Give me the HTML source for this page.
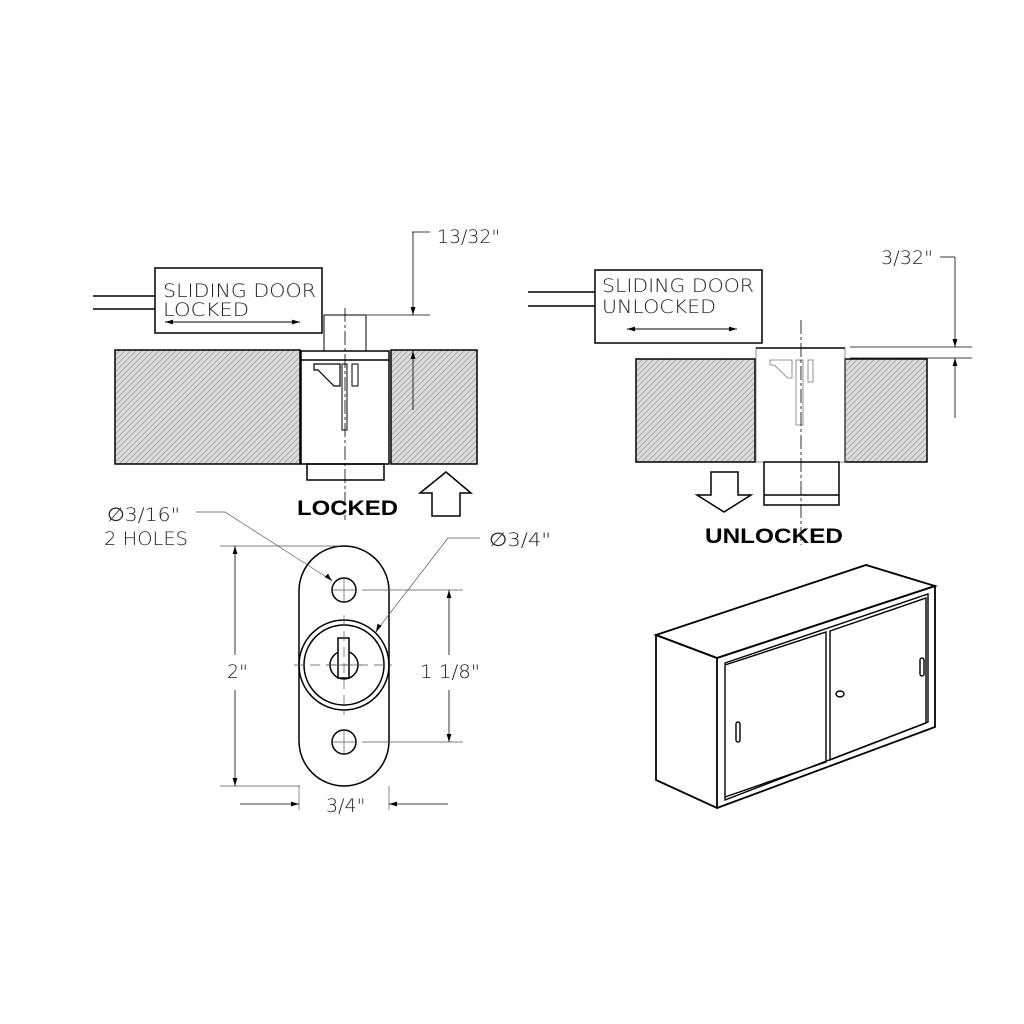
<!DOCTYPE html>
<html><head><meta charset="utf-8"><style>
html,body{margin:0;padding:0;background:#fff;}
svg{display:block;}
.t{font-family:"DejaVu Sans","Liberation Sans",sans-serif;font-weight:200;fill:#222;}
.b{font-family:"Liberation Sans",sans-serif;font-weight:bold;fill:#000;}
</style></head><body>
<svg width="1024" height="1024" viewBox="0 0 1024 1024" xmlns="http://www.w3.org/2000/svg">
<defs>
<pattern id="h" width="4" height="4" patternUnits="userSpaceOnUse" patternTransform="rotate(45)">
<rect width="4" height="4" fill="#dcdcdc"/><line x1="0" y1="0" x2="0" y2="4" stroke="#888" stroke-width="1.2"/>
</pattern>
<marker id="a" viewBox="0 0 10 10" refX="10" refY="5" markerWidth="14" markerHeight="8" orient="auto-start-reverse" markerUnits="userSpaceOnUse"><path d="M0,2 L10,5 L0,8z" fill="#000"/></marker>
</defs>
<g fill="none" stroke="#000" stroke-width="1.5">
<!-- LOCKED view -->
<line x1="93" y1="296" x2="155" y2="296"/><line x1="93" y1="309" x2="155" y2="309"/>
<rect x="155" y="268" width="167" height="65"/>
<line x1="165" y1="322" x2="300" y2="322" stroke-width="1" marker-start="url(#a)" marker-end="url(#a)"/>
<rect x="115" y="350" width="185" height="114" fill="url(#h)"/>
<rect x="391" y="350" width="86" height="114" fill="url(#h)"/>
<rect x="301" y="351" width="88" height="113"/>
<line x1="301" y1="360" x2="389" y2="360"/>
<rect x="307" y="464" width="77" height="16"/>
<path d="M324,351 V315 H366 V351" stroke-width="1"/>
<path d="M314,364 H340 V386 L334,386 L318,370 H314z" stroke-width="1.2"/>
<rect x="342" y="364" width="5" height="66" stroke-width="1"/>
<rect x="352" y="364" width="6" height="22" stroke-width="1"/>
<line x1="345" y1="308" x2="345" y2="520" stroke-width="0.8" stroke-dasharray="14,3,3,3"/>
<path d="M412,232 H430" stroke-width="0.8"/>
<line x1="413" y1="232" x2="413" y2="315" stroke-width="0.8" marker-end="url(#a)"/>
<line x1="367" y1="315" x2="430" y2="315" stroke-width="0.8"/>
<line x1="413" y1="410" x2="413" y2="351" stroke-width="0.8" marker-end="url(#a)"/>
<path d="M432,516 V493 H420 L446,472 L471,493 H460 V516z"/>
<!-- UNLOCKED view -->
<line x1="528" y1="292" x2="595" y2="292"/><line x1="528" y1="306" x2="595" y2="306"/>
<rect x="595" y="270" width="167" height="73"/>
<line x1="627" y1="329" x2="737" y2="329" stroke-width="1" marker-start="url(#a)" marker-end="url(#a)"/>
<rect x="636" y="359" width="119" height="103" fill="url(#h)"/>
<rect x="845" y="359" width="82" height="103" fill="url(#h)"/>
<rect x="756" y="348" width="89" height="114" stroke-width="0.8" stroke="#777"/>
<line x1="756" y1="348" x2="845" y2="348"/>
<rect x="764" y="462" width="75" height="43"/>
<line x1="764" y1="495" x2="839" y2="495"/>
<path d="M770,360 H792 V378 L788,378 L774,365 H770z" stroke-width="0.8" stroke="#777"/>
<rect x="796" y="360" width="7" height="65" stroke-width="0.8" stroke="#777"/>
<rect x="808" y="360" width="5" height="22" stroke-width="0.8" stroke="#777"/>
<line x1="801" y1="320" x2="801" y2="545" stroke-width="0.8" stroke-dasharray="14,3,3,3"/>
<path d="M940,257 H955" stroke-width="0.8"/>
<line x1="955" y1="257" x2="955" y2="347" stroke-width="0.8" marker-end="url(#a)"/>
<line x1="850" y1="347" x2="972" y2="347" stroke-width="0.8"/>
<line x1="850" y1="358" x2="972" y2="358" stroke-width="0.8"/>
<line x1="955" y1="418" x2="955" y2="358" stroke-width="0.8" marker-end="url(#a)"/>
<path d="M711,472 H738 V495 H751 L724,512 L697,495 H711z"/>
<!-- plate -->
<rect x="299" y="546" width="90" height="240" rx="45" ry="45"/>
<circle cx="344" cy="590" r="12"/><circle cx="344" cy="742" r="12"/>
<circle cx="344" cy="665" r="45"/><circle cx="344" cy="665" r="40"/>
<circle cx="344" cy="665" r="14"/>
<rect x="338" y="638" width="11" height="40" fill="#fff"/>
<g stroke-width="0.7" stroke="#555">
<line x1="326" y1="665" x2="362" y2="665"/>
<line x1="294" y1="665" x2="392" y2="665" stroke-dasharray="10,6"/>
<line x1="344" y1="615" x2="344" y2="715" stroke-dasharray="10,6"/>
<line x1="332" y1="590" x2="356" y2="590"/><line x1="344" y1="578" x2="344" y2="602"/>
<line x1="332" y1="742" x2="356" y2="742"/><line x1="344" y1="730" x2="344" y2="754"/>
<line x1="220" y1="546" x2="340" y2="546"/><line x1="220" y1="786" x2="300" y2="786"/>
<line x1="362" y1="590" x2="463" y2="590"/><line x1="362" y1="742" x2="463" y2="742"/>
<line x1="299" y1="786" x2="299" y2="810"/><line x1="389" y1="786" x2="389" y2="810"/>
<path d="M196,512 H225 L331,580"/>
<path d="M480,538 H448 L377,630"/>
</g>
<g stroke-width="0.8">
<line x1="235" y1="655" x2="235" y2="546" marker-end="url(#a)"/>
<line x1="235" y1="690" x2="235" y2="786" marker-end="url(#a)"/>
<line x1="449" y1="655" x2="449" y2="590" marker-end="url(#a)"/>
<line x1="449" y1="690" x2="449" y2="742" marker-end="url(#a)"/>
<line x1="240" y1="804" x2="299" y2="804" marker-end="url(#a)"/>
<line x1="448" y1="804" x2="389" y2="804" marker-end="url(#a)"/>
<line x1="331" y1="580" x2="332" y2="581" marker-end="url(#a)"/>
<line x1="377" y1="630" x2="376" y2="632" marker-end="url(#a)"/>
</g>
<!-- cabinet -->
<path d="M656,635 L866,565 L935,586 L717,658 Z" fill="#fff" stroke-width="1.8"/>
<path d="M656,635 L717,658 L717,808 L656,780 Z" stroke-width="1.8"/>
<path d="M717,658 L935,586 L935,727 L717,808" stroke-width="1.8"/>
<path d="M725,663 L928,594 L928,722 L725,800 Z" stroke-width="1.4"/>
<path d="M725,665 L826,632 L826,762 L725,797" stroke-width="1.4"/>
<path d="M830,631 L926,598 L926,723 L830,760 Z" stroke-width="1.4"/>
<rect x="736" y="722" width="4" height="20" rx="2" stroke-width="1.4"/>
<rect x="920" y="658" width="4" height="18" rx="2" stroke-width="1.4"/>
<ellipse cx="840" cy="694" rx="4" ry="3" stroke-width="1.4"/>
</g>
<g class="t">
<text x="163" y="297" font-size="19" textLength="153" lengthAdjust="spacingAndGlyphs">SLIDING DOOR</text>
<text x="163" y="316" font-size="19" textLength="86" lengthAdjust="spacingAndGlyphs">LOCKED</text>
<text x="437" y="243" font-size="19" textLength="63" lengthAdjust="spacingAndGlyphs">13/32"</text>
<text x="602" y="292" font-size="19" textLength="152" lengthAdjust="spacingAndGlyphs">SLIDING DOOR</text>
<text x="602" y="313" font-size="19" textLength="114" lengthAdjust="spacingAndGlyphs">UNLOCKED</text>
<text x="881" y="264" font-size="19" textLength="52" lengthAdjust="spacingAndGlyphs">3/32"</text>
<text x="107" y="521" font-size="19" textLength="73" lengthAdjust="spacingAndGlyphs">∅3/16"</text>
<text x="104" y="545" font-size="19" textLength="84" lengthAdjust="spacingAndGlyphs">2 HOLES</text>
<text x="489" y="546" font-size="19" textLength="62" lengthAdjust="spacingAndGlyphs">∅3/4"</text>
<text x="227" y="678" font-size="19">2"</text>
<text x="420" y="678" font-size="19" textLength="60" lengthAdjust="spacingAndGlyphs">1 1/8"</text>
<text x="326" y="812" font-size="19">3/4"</text>
</g>
<text class="b" x="297" y="515" font-size="21" textLength="101" lengthAdjust="spacingAndGlyphs">LOCKED</text>
<text class="b" x="705" y="543" font-size="21" textLength="138" lengthAdjust="spacingAndGlyphs">UNLOCKED</text>
</svg>
</body></html>
